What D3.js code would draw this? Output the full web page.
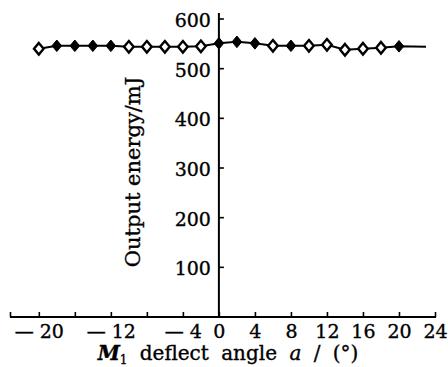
<!DOCTYPE html>
<html>
<head>
<meta charset="utf-8">
<script src="https://cdn.jsdelivr.net/npm/d3@7"></script>
<style>
  body { margin: 0; background: #fff; }
  svg { display: block; }
  text { font-family: "DejaVu Serif", serif; fill: #000; stroke: #000; stroke-width: 0.35px; }
</style>
</head>
<body>
<svg id="chart" width="448" height="367"></svg>
<script>
// deflect angle (deg) and output energy (mJ)
const angles = [-20, -18, -16, -14, -12, -10, -8, -6, -4, -2, 0, 2, 4, 6, 8, 10, 12, 14, 16, 18, 20];
const energy = [539, 545, 545, 545, 545, 543, 543, 543, 543, 544, 550, 553, 550, 545, 545, 545, 547, 537, 539, 541, 544];
// true = filled diamond, false = open diamond
const filled = [false, true, true, true, true, false, false, false, false, false, true, true, true, false, true, false, false, false, false, false, true];
// line runs a little past the last point
const tailAngle = 23;
const tailEnergy = 543;

const xTicks = [-20, -16, -12, -8, -4, 0, 4, 8, 12, 16, 20, 24];
const xTickLabels = { '-20': '— 20', '-12': '— 12', '-4': '— 4', '0': '0', '4': '4', '8': '8',
  '12': '12', '16': '16', '20': '20', '24': '24' };
const yTicks = [100, 200, 300, 400, 500, 600];

const svg = d3.select('#chart');

const x = d3.scaleLinear().domain([-23.2, 24]).range([10, 435]);
const y = d3.scaleLinear().domain([0, 600]).range([316.5, 18.5]);

const axisY = 317;

// x axis
const xAxis = svg.append('g')
  .attr('transform', 'translate(0,' + axisY + ')')
  .call(d3.axisBottom(x)
    .tickValues([x.domain()[0]].concat(xTicks))
    .tickSizeInner(-5)
    .tickSizeOuter(0)
    .tickPadding(8)
    .tickFormat(d => xTickLabels[String(d)] || ''));
xAxis.select('.domain').remove();
xAxis.selectAll('.tick line').attr('stroke', '#000').attr('stroke-width', 1.6);
xAxis.selectAll('.tick text').style('font-size', '19px').attr('fill', '#000');
xAxis.append('line')
  .attr('x1', x.range()[0]).attr('x2', x(24) + 1)
  .attr('stroke', '#000').attr('stroke-width', 2);

// y axis
const yAxis = svg.append('g')
  .attr('transform', 'translate(' + x(0) + ',0)')
  .call(d3.axisLeft(y)
    .tickValues(yTicks)
    .tickSizeInner(-5)
    .tickSizeOuter(0)
    .tickPadding(8));
yAxis.select('.domain').remove();
yAxis.selectAll('.tick line').attr('stroke', '#000').attr('stroke-width', 1.6);
yAxis.selectAll('.tick text').style('font-size', '19px').attr('fill', '#000').attr('dy', '0.42em');
yAxis.append('line')
  .attr('y1', axisY).attr('y2', y(611))
  .attr('stroke', '#000').attr('stroke-width', 2);

// axis titles
svg.append('text')
  .attr('transform', 'translate(140,172) rotate(-90)')
  .attr('text-anchor', 'middle')
  .style('font-size', '21px')
  .text('Output energy/mJ');

const xTitle = svg.append('text')
  .attr('x', 228).attr('y', 360)
  .attr('text-anchor', 'middle')
  .style('font-size', '20px')
  .style('word-spacing', '6px');
xTitle.append('tspan').style('font-style', 'italic').style('font-weight', 'bold').text('M');
xTitle.append('tspan').attr('dy', 4).style('font-size', '12px').text('1');
xTitle.append('tspan').attr('dy', -4).text(' deflect angle ');
xTitle.append('tspan').style('font-style', 'italic').text('a');
xTitle.append('tspan').text(' / (°)');

// data line
const pts = angles.map((a, i) => ({ a: a, e: energy[i], f: filled[i] }));
const line = d3.line().x(d => x(d.a)).y(d => y(d.e));
svg.append('path')
  .datum(pts.concat([{ a: tailAngle, e: tailEnergy }]))
  .attr('d', line)
  .attr('fill', 'none')
  .attr('stroke', '#000')
  .attr('stroke-width', 2);

// diamond markers
const diamond = 'M0,-5.8L4.8,0L0,5.8L-4.8,0Z';
svg.selectAll('.pt')
  .data(pts)
  .enter().append('path')
  .attr('class', 'pt')
  .attr('transform', d => 'translate(' + x(d.a) + ',' + y(d.e) + ')')
  .attr('d', diamond)
  .attr('fill', d => d.f ? '#000' : '#fff')
  .attr('stroke', '#000')
  .attr('stroke-width', d => d.f ? 1 : 2.4);
</script>
</body>
</html>
